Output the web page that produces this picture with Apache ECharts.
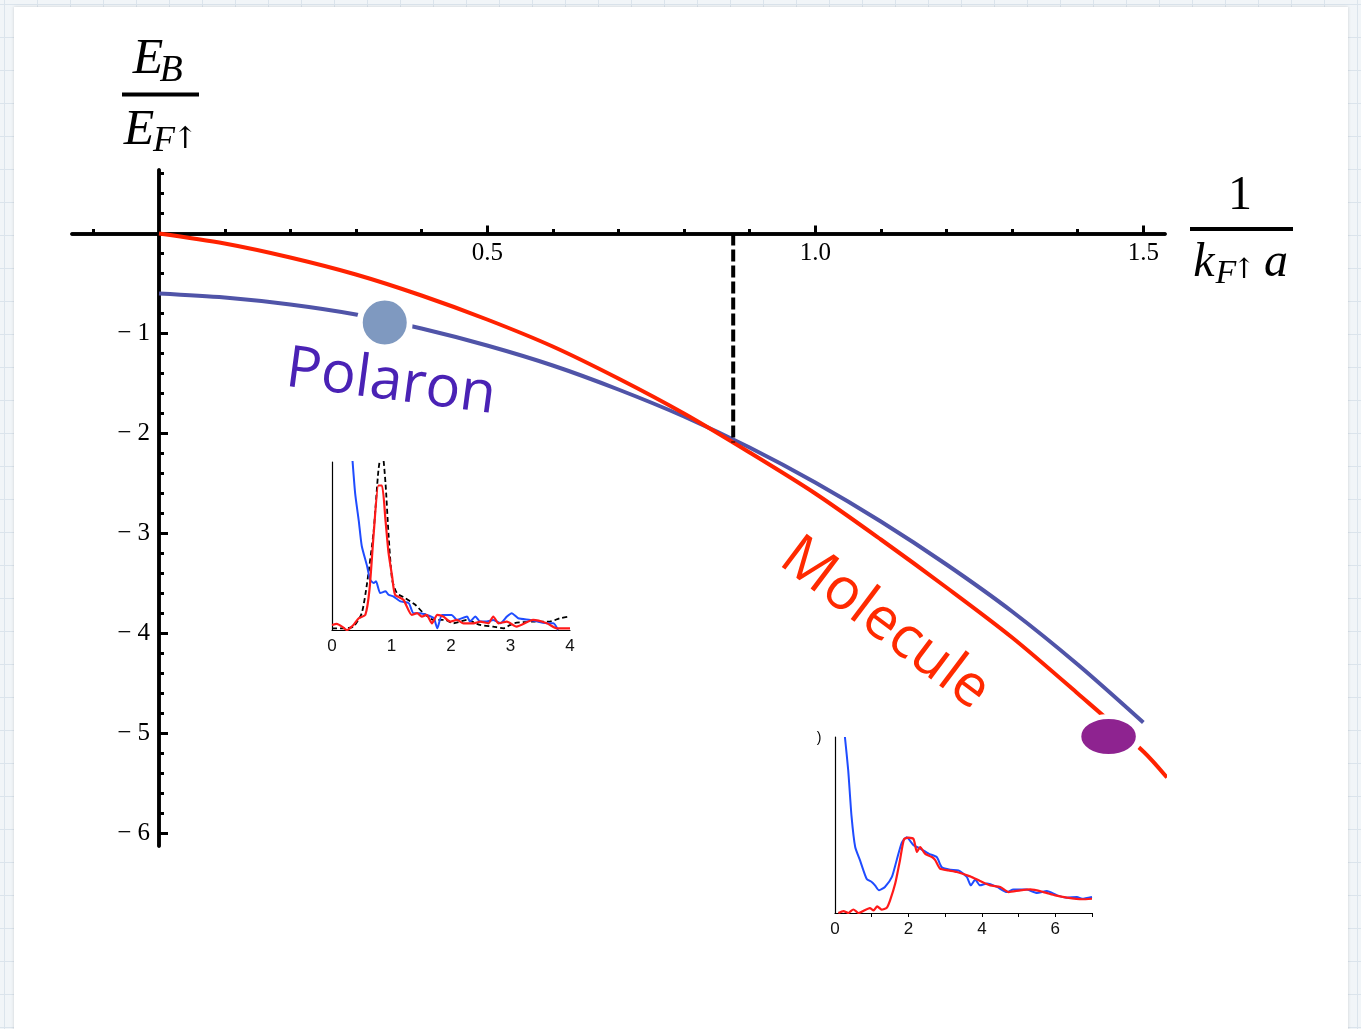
<!DOCTYPE html>
<html>
<head>
<meta charset="utf-8">
<script src="https://cdn.jsdelivr.net/npm/echarts@6/dist/echarts.min.js"></script>
<style>
html,body{margin:0;padding:0;}
body{width:1361px;height:1029px;overflow:hidden;position:relative;
 background-color:#f1f5f8;
 background-image:
  linear-gradient(to right, #dbe4ec 1px, transparent 1px),
  linear-gradient(to bottom, #dbe4ec 1px, transparent 1px);
 background-size:33px 33px;
 background-position:4px 4px;}
#panel{position:absolute;left:14px;top:7px;width:1334px;height:1040px;background:#fff;box-shadow:0 0 3px rgba(0,0,0,0.15);}
#c{position:absolute;left:0;top:0;width:1361px;height:1029px;}
</style>
</head>
<body>
<div id="panel"></div>
<div id="c"></div>
<script>
// ---------- main chart data ----------
const moleculeX = [0, 0.1, 0.2, 0.3, 0.4, 0.5, 0.6, 0.7, 0.8, 0.9, 1.0, 1.1, 1.2, 1.3, 1.4, 1.5, 1.536];
const moleculeY = [0, -0.1, -0.24, -0.41, -0.62, -0.86, -1.13, -1.45, -1.8, -2.19, -2.6, -3.06, -3.54, -4.04, -4.6, -5.18, -5.44];
const polaronX = [0, 0.1, 0.2, 0.3, 0.4, 0.5, 0.6, 0.7, 0.8, 0.9, 1.0, 1.1, 1.2, 1.3, 1.4, 1.5];
const polaronY = [-0.6, -0.64, -0.71, -0.81, -0.95, -1.12, -1.32, -1.56, -1.83, -2.14, -2.49, -2.88, -3.31, -3.78, -4.31, -4.89];
const crossingX = [0.875, 0.875];
const crossingY = [0, -2.09];
const polaronMarker = [0.344, -0.89];
const moleculeMarker = [1.447, -5.03];

const xMajorTicks = [0.5, 1.0, 1.5];
const xMinorTicks = [-0.1, 0.1, 0.2, 0.3, 0.4, 0.6, 0.7, 0.8, 0.9, 1.1, 1.2, 1.3, 1.4];
const yMajorTicks = [-1, -2, -3, -4, -5, -6];
const yMinorTicks = [0.6, 0.4, 0.2, -0.2, -0.4, -0.6, -0.8, -1.2, -1.4, -1.6, -1.8, -2.2, -2.4, -2.6, -2.8,
  -3.2, -3.4, -3.6, -3.8, -4.2, -4.4, -4.6, -4.8, -5.2, -5.4, -5.6, -5.8];

// ---------- inset 1 (polaron spectrum) ----------
const inset1Blue = [[0.336,1.05],[0.39,0.81],[0.45,0.65],[0.5,0.5],[0.59,0.38],[0.64,0.3],[0.7,0.28],[0.74,0.29],[0.81,0.22],[0.9,0.23],[0.95,0.21],[1.03,0.2],[1.15,0.17],[1.29,0.16],[1.37,0.1],[1.48,0.1],[1.59,0.09],[1.71,0.07],[1.77,0.01],[1.85,0.09],[2.01,0.09],[2.1,0.06],[2.27,0.08],[2.32,0.05],[2.41,0.08],[2.49,0.05],[2.6,0.05],[2.71,0.06],[2.83,0.04],[2.94,0.08],[3.02,0.1],[3.13,0.07],[3.33,0.06],[3.61,0.04],[3.72,0.04],[3.8,0.0]];
const inset1Red = [[0,0.03],[0.08,0.036],[0.17,0.02],[0.25,0.0],[0.36,0.03],[0.45,0.07],[0.56,0.09],[0.63,0.24],[0.7,0.57],[0.78,0.86],[0.84,0.86],[0.9,0.65],[0.95,0.46],[1.01,0.32],[1.06,0.21],[1.2,0.18],[1.34,0.09],[1.43,0.1],[1.51,0.08],[1.59,0.09],[1.68,0.04],[1.77,0.09],[1.87,0.08],[1.99,0.05],[2.1,0.06],[2.21,0.04],[2.38,0.04],[2.49,0.05],[2.63,0.04],[2.71,0.08],[2.8,0.04],[2.94,0.05],[3.1,0.02],[3.38,0.06],[3.61,0.04],[3.78,0.01],[4.0,0.01]];
const inset1Theory = [[0,0.01],[0.2,0.01],[0.36,0.02],[0.5,0.1],[0.59,0.28],[0.7,0.59],[0.78,0.95],[0.84,1.08],[0.9,0.87],[0.95,0.57],[1.01,0.3],[1.09,0.22],[1.23,0.19],[1.4,0.15],[1.54,0.1],[1.71,0.06],[1.9,0.06],[2.04,0.04],[2.27,0.06],[2.49,0.03],[2.71,0.02],[2.88,0.01],[3.05,0.04],[3.38,0.05],[3.66,0.05],[3.83,0.07],[4.0,0.08]];
const inset1Labels = [0, 1, 2, 3, 4];

// ---------- inset 2 (molecule spectrum) ----------
const inset2Blue = [[0.27,1.0],[0.36,0.81],[0.45,0.55],[0.55,0.375],[0.68,0.3],[0.86,0.195],[1.0,0.176],[1.09,0.157],[1.2,0.129],[1.36,0.148],[1.55,0.205],[1.68,0.3],[1.82,0.4],[1.95,0.43],[2.14,0.385],[2.32,0.366],[2.55,0.337],[2.77,0.318],[2.91,0.26],[3.14,0.246],[3.36,0.242],[3.59,0.205],[3.7,0.157],[3.82,0.19],[3.95,0.157],[4.14,0.167],[4.41,0.148],[4.68,0.119],[4.86,0.134],[5.23,0.133],[5.5,0.114],[5.77,0.125],[6.05,0.1],[6.32,0.087],[6.59,0.091],[6.73,0.081],[7.0,0.091]];
const inset2Red = [[0.09,0.0],[0.23,0.011],[0.36,0.0],[0.5,0.02],[0.64,0.0],[0.95,0.028],[1.05,0.015],[1.15,0.038],[1.27,0.019],[1.41,0.03],[1.5,0.072],[1.64,0.167],[1.77,0.3],[1.88,0.42],[2.0,0.428],[2.14,0.42],[2.23,0.347],[2.32,0.375],[2.45,0.337],[2.64,0.318],[2.73,0.3],[2.86,0.252],[3.09,0.242],[3.32,0.233],[3.68,0.208],[3.95,0.182],[4.23,0.157],[4.5,0.148],[4.73,0.119],[5.05,0.129],[5.32,0.134],[5.68,0.119],[6.0,0.1],[6.32,0.087],[6.73,0.078],[7.0,0.081]];
const inset2Labels = [0, 2, 4, 6];
const inset2Ticks = [1, 2, 3, 4, 5, 6, 7];

const zip = (xs, ys) => xs.map((x, i) => [x, ys[i]]);

const SERIF = '"Liberation Serif","Times New Roman",serif';
const SANS = '"Liberation Sans",Arial,sans-serif';
const HAND = '"Open Sans","Noto Sans",sans-serif';

// axis ranges (main plot): data grid starts at x = 0, the x-axis strip extends to negative x
const xMin = -0.133, xMax = 1.533, yMin = -6.125, yMax = 0.635;

const chart = echarts.init(document.getElementById('c'), null, {renderer: 'canvas'});

const thickLine = {onZero: false, lineStyle: {color: '#000', width: 3.5}};
const hiddenAxis = {show: false};

const option = {
  animation: false,
  backgroundColor: 'transparent',
  grid: [
    {left: 159, top: 170, width: 1006, height: 676},   // data + y axis
    {left: 72, top: 170, width: 1093, height: 63.5},   // x axis strip (bottom edge at y = 0)
    {left: 332, top: 462, width: 238, height: 168},    // inset 1
    {left: 835, top: 737, width: 257, height: 176}     // inset 2
  ],
  xAxis: [
    {gridIndex: 0, type: 'value', min: 0, max: xMax, show: false},
    {gridIndex: 1, type: 'value', min: xMin, max: xMax, position: 'bottom', axisLine: thickLine,
     axisTick: {inside: true, length: 8, lineStyle: {width: 3, color: '#000'}, customValues: xMajorTicks},
     axisLabel: {customValues: xMajorTicks, formatter: v => v.toFixed(1), fontFamily: SERIF, fontSize: 25, color: '#000', margin: 7},
     splitLine: {show: false}},
    {gridIndex: 1, type: 'value', min: xMin, max: xMax, position: 'bottom', axisLine: thickLine,
     axisTick: {inside: true, length: 4.5, lineStyle: {width: 3, color: '#000'}, customValues: xMinorTicks},
     axisLabel: {show: false}, splitLine: {show: false}},
    {gridIndex: 2, type: 'value', min: 0, max: 4, interval: 1,
     axisLine: {onZero: false, lineStyle: {color: '#000', width: 1.2}},
     axisTick: {show: false},
     axisLabel: {customValues: inset1Labels, fontFamily: SANS, fontSize: 17, color: '#111', margin: 8},
     splitLine: {show: false}},
    {gridIndex: 3, type: 'value', min: 0, max: 7, interval: 1,
     axisLine: {onZero: false, lineStyle: {color: '#000', width: 1.2}},
     axisTick: {show: true, length: 4, customValues: inset2Ticks, lineStyle: {color: '#000', width: 1}},
     axisLabel: {customValues: inset2Labels, fontFamily: SANS, fontSize: 17, color: '#111', margin: 8},
     splitLine: {show: false}}
  ],
  yAxis: [
    {gridIndex: 0, type: 'value', min: yMin, max: yMax, position: 'left', axisLine: thickLine,
     axisTick: {inside: true, length: 9, lineStyle: {width: 3, color: '#000'}, customValues: yMajorTicks},
     axisLabel: {customValues: yMajorTicks, formatter: v => '\u2212 ' + Math.abs(v), fontFamily: SERIF, fontSize: 25, color: '#000', margin: 9},
     splitLine: {show: false}},
    {gridIndex: 0, type: 'value', min: yMin, max: yMax, position: 'left', axisLine: thickLine,
     axisTick: {inside: true, length: 5, lineStyle: {width: 3, color: '#000'}, customValues: yMinorTicks},
     axisLabel: {show: false}, splitLine: {show: false}},
    {gridIndex: 1, type: 'value', min: 0, max: 1, show: false},
    {gridIndex: 2, type: 'value', min: 0, max: 1,
     axisLine: {show: true, onZero: false, lineStyle: {color: '#000', width: 1.2}},
     axisTick: {show: false}, axisLabel: {show: false}, splitLine: {show: false}},
    {gridIndex: 3, type: 'value', min: 0, max: 1,
     axisLine: {show: true, onZero: false, lineStyle: {color: '#000', width: 1.2}},
     axisTick: {show: false}, axisLabel: {show: false}, splitLine: {show: false}}
  ],
  series: [
    {type: 'line', xAxisIndex: 0, yAxisIndex: 0, data: zip(polaronX, polaronY), smooth: 0.3, showSymbol: false,
     lineStyle: {color: '#5054a8', width: 4}, z: 3},
    {type: 'line', xAxisIndex: 0, yAxisIndex: 0, data: zip(moleculeX, moleculeY), smooth: 0.3, showSymbol: false,
     lineStyle: {color: '#ff2200', width: 4}, z: 4},
    {type: 'line', xAxisIndex: 0, yAxisIndex: 0, data: zip(crossingX, crossingY), showSymbol: false,
     lineStyle: {color: '#000', width: 4, type: [12, 4], cap: 'butt'}, z: 5},
    {type: 'scatter', xAxisIndex: 0, yAxisIndex: 0, data: [polaronMarker], symbol: 'circle', symbolSize: 50,
     itemStyle: {color: '#7f99c0', borderColor: '#fff', borderWidth: 6, opacity: 1}, z: 6},
    {type: 'scatter', xAxisIndex: 0, yAxisIndex: 0, data: [moleculeMarker], symbol: 'circle', symbolSize: [62, 40],
     itemStyle: {color: '#8e2390', borderColor: '#fff', borderWidth: 6, opacity: 1}, z: 6},

    {type: 'line', xAxisIndex: 3, yAxisIndex: 3, data: inset1Theory, smooth: 0.2, showSymbol: false,
     lineStyle: {color: '#000', width: 1.8, type: [5, 3]}, z: 3},
    {type: 'line', xAxisIndex: 3, yAxisIndex: 3, data: inset1Blue, smooth: 0.2, showSymbol: false,
     lineStyle: {color: '#1f4cff', width: 2}, z: 4},
    {type: 'line', xAxisIndex: 3, yAxisIndex: 3, data: inset1Red, smooth: 0.2, showSymbol: false,
     lineStyle: {color: '#ff1a1a', width: 2.2}, z: 5},

    {type: 'line', xAxisIndex: 4, yAxisIndex: 4, data: inset2Blue, smooth: 0.2, showSymbol: false,
     lineStyle: {color: '#1f4cff', width: 2}, z: 4},
    {type: 'line', xAxisIndex: 4, yAxisIndex: 4, data: inset2Red, smooth: 0.2, showSymbol: false,
     lineStyle: {color: '#ff1a1a', width: 2.2}, z: 5}
  ],
  graphic: [
    // y-axis label  E_B / E_F↑
    {type: 'text', x: 148, y: 60, z: 10, style: {text: 'E', font: 'italic 50px ' + SERIF, fill: '#000', align: 'center', verticalAlign: 'middle'}},
    {type: 'text', x: 171, y: 71, z: 10, style: {text: 'B', font: 'italic 38px ' + SERIF, fill: '#000', align: 'center', verticalAlign: 'middle'}},
    {type: 'rect', z: 10, shape: {x: 122, y: 92.5, width: 77, height: 4}, style: {fill: '#000'}},
    {type: 'text', x: 139, y: 131, z: 10, style: {text: 'E', font: 'italic 50px ' + SERIF, fill: '#000', align: 'center', verticalAlign: 'middle'}},
    {type: 'text', x: 164, y: 142, z: 10, style: {text: 'F', font: 'italic 36px ' + SERIF, fill: '#000', align: 'center', verticalAlign: 'middle'}},
    {type: 'text', x: 185, y: 140, z: 10, style: {text: '\u2191', font: '30px "DejaVu Serif",serif', fill: '#000', align: 'center', verticalAlign: 'middle'}},
    // x-axis label  1 / k_F↑ a
    {type: 'text', x: 1240, y: 196, z: 10, style: {text: '1', font: '48px ' + SERIF, fill: '#000', align: 'center', verticalAlign: 'middle'}},
    {type: 'rect', z: 10, shape: {x: 1190, y: 227, width: 103, height: 4}, style: {fill: '#000'}},
    {type: 'text', x: 1204, y: 263, z: 10, style: {text: 'k', font: 'italic 48px ' + SERIF, fill: '#000', align: 'center', verticalAlign: 'middle'}},
    {type: 'text', x: 1226, y: 274, z: 10, style: {text: 'F', font: 'italic 34px ' + SERIF, fill: '#000', align: 'center', verticalAlign: 'middle'}},
    {type: 'text', x: 1244, y: 271, z: 10, style: {text: '\u2191', font: '28px "DejaVu Serif",serif', fill: '#000', align: 'center', verticalAlign: 'middle'}},
    {type: 'text', x: 1276, y: 263, z: 10, style: {text: 'a', font: 'italic 48px ' + SERIF, fill: '#000', align: 'center', verticalAlign: 'middle'}},
    // curve names
    {type: 'text', x: 391, y: 383, rotation: -0.132, z: 10, style: {text: 'Polaron', font: '58px ' + HAND, fill: '#4a22b5', align: 'center', verticalAlign: 'middle'}},
    {type: 'text', x: 885, y: 624, rotation: -0.645, z: 10, style: {text: 'Molecule', font: '58px ' + HAND, fill: '#ff2a00', align: 'center', verticalAlign: 'middle'}},
    // stray glyph at top-left of lower inset
    {type: 'text', x: 819, y: 738, z: 10, style: {text: ')', font: '14px ' + SANS, fill: '#000', align: 'center', verticalAlign: 'middle'}}
  ]
};
chart.setOption(option);
</script>
</body>
</html>
